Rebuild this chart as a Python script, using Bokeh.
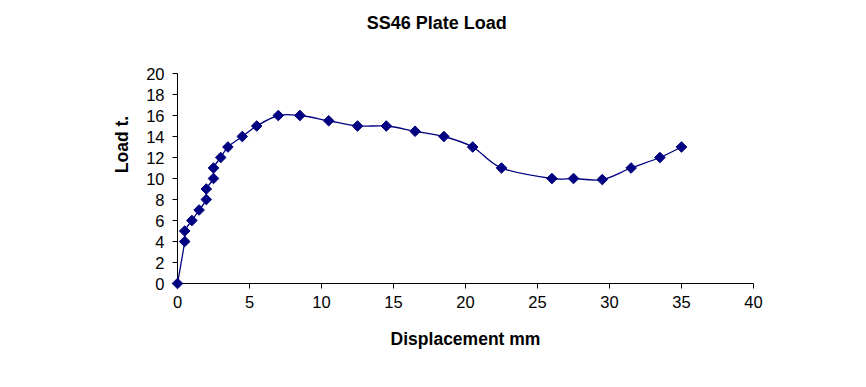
import math
from bokeh.plotting import figure
from bokeh.models import ColumnDataSource, Label, FixedTicker, Range1d
from bokeh.embed import file_html
from bokeh.resources import INLINE

# Data
displacement = [0, 0.5, 0.5, 1, 1.5, 2, 2, 2.5, 2.5, 3, 3.5, 4.5, 5.5, 7, 8.5,
                10.5, 12.5, 14.5, 16.5, 18.5, 20.5, 22.5, 26, 27.5, 29.5, 31.5, 33.5, 35]
load = [0, 4, 5, 6, 7, 8, 9, 10, 11, 12, 13, 14, 15, 16, 16,
        15.5, 15, 15, 14.5, 14, 13, 11, 10, 10, 9.9, 11, 12, 13]
x_ticks = [0, 5, 10, 15, 20, 25, 30, 35, 40]
y_ticks = [0, 2, 4, 6, 8, 10, 12, 14, 16, 18, 20]
title_text = "SS46 Plate Load"

FONT = "Liberation Sans"
NAVY = "#000080"

# frame extended upward so the title can live inside it; the y axis is bounded to 0..20
FRAME_H = 278
Y_TOP = 20 * FRAME_H / 210.0

p = figure(width=850, height=371, output_backend="svg", toolbar_location=None,
           frame_width=576, frame_height=FRAME_H,
           x_range=Range1d(0, 40), y_range=Range1d(0, Y_TOP))
p.min_border_left = 177
p.min_border_right = 97
p.min_border_top = 5
p.min_border_bottom = 88
p.outline_line_color = None
p.xgrid.visible = False
p.ygrid.visible = False
p.background_fill_color = "white"
p.border_fill_color = "white"

title = Label(x=18.0, y=20 + 51 / 10.5, text=title_text, text_align="center",
              text_baseline="middle", text_font=FONT, text_font_size="18px",
              text_font_style="bold", text_color="black")
p.add_layout(title)

# Smoothed line (Excel-like cardinal spline) built from the data
n = len(displacement)
x0s, y0s, x1s, y1s, cx0s, cy0s, cx1s, cy1s = [], [], [], [], [], [], [], []
for i in range(n - 1):
    xp = displacement[i - 1] if i > 0 else displacement[i]
    yp = load[i - 1] if i > 0 else load[i]
    xn2 = displacement[i + 2] if i + 2 < n else displacement[i + 1]
    yn2 = load[i + 2] if i + 2 < n else load[i + 1]
    xa, ya = displacement[i], load[i]
    xb, yb = displacement[i + 1], load[i + 1]
    x0s.append(xa); y0s.append(ya); x1s.append(xb); y1s.append(yb)
    cx0s.append(xa + (xb - xp) / 6.0); cy0s.append(ya + (yb - yp) / 6.0)
    cx1s.append(xb - (xn2 - xa) / 6.0); cy1s.append(yb - (yn2 - ya) / 6.0)

bsrc = ColumnDataSource(dict(x0=x0s, y0=y0s, x1=x1s, y1=y1s,
                             cx0=cx0s, cy0=cy0s, cx1=cx1s, cy1=cy1s))
p.bezier(x0="x0", y0="y0", x1="x1", y1="y1", cx0="cx0", cy0="cy0",
         cx1="cx1", cy1="cy1", source=bsrc, line_color=NAVY, line_width=1.3)

src = ColumnDataSource(dict(x=displacement, y=load))
r = p.scatter("x", "y", source=src, marker="square", size=7.5, angle=math.pi / 4,
              fill_color=NAVY, line_color=NAVY)
r.level = "overlay"

for ax, ticks in ((p.xaxis[0], x_ticks), (p.yaxis[0], y_ticks)):
    ax.ticker = FixedTicker(ticks=ticks)
    ax.minor_tick_line_color = None
    ax.major_tick_in = 0
    ax.major_tick_out = 5
    ax.axis_line_color = "black"
    ax.major_tick_line_color = "black"
    ax.major_label_text_font = FONT
    ax.major_label_text_font_size = "16.5px"
    ax.major_label_text_color = "black"
    ax.axis_label_text_font = FONT
    ax.axis_label_text_font_size = "17.5px"
    ax.axis_label_text_font_style = "bold"
    ax.axis_label_text_color = "black"

p.yaxis.bounds = (0, 20)
p.xaxis.axis_label = "Displacement mm"
p.yaxis.axis_label = "Load t."
p.xaxis.major_label_standoff = 7
p.yaxis.major_label_standoff = 8
p.xaxis.axis_label_standoff = 18
p.yaxis.axis_label_standoff = 11

open("out.html", "w").write(file_html(p, INLINE))
